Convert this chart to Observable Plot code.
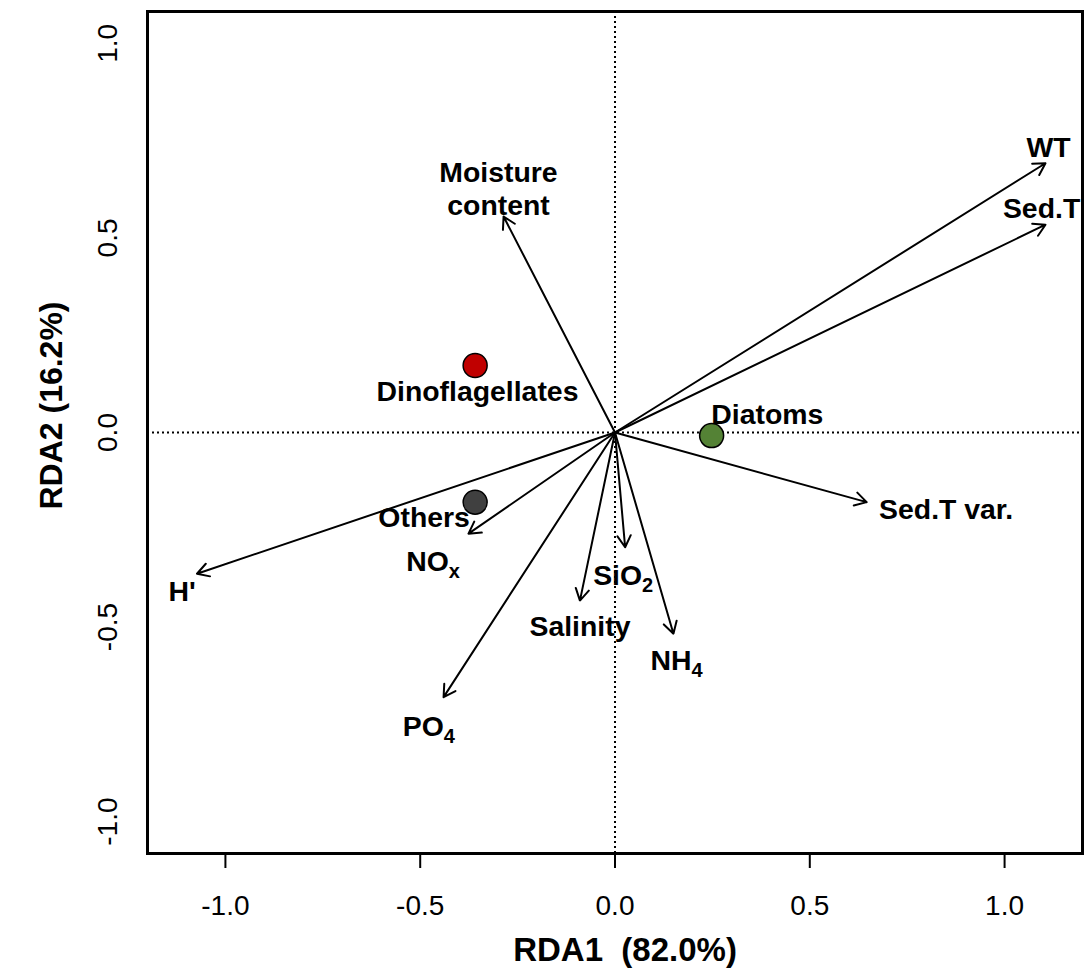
<!DOCTYPE html>
<html>
<head>
<meta charset="utf-8">
<script src="https://cdn.jsdelivr.net/npm/d3@7"></script>
<script src="https://cdn.jsdelivr.net/npm/@observablehq/plot@0.6"></script>
<style>
  html, body { margin: 0; padding: 0; background: #fff; }
  #chart svg { display: block; }
</style>
</head>
<body>
<div id="chart"></div>
<script>
// Axis ticks
const xTicks = [-1.0, -0.5, 0.0, 0.5, 1.0];
const yTicks = [-1.0, -0.5, 0.0, 0.5, 1.0];
const xTitle = "RDA1\u00a0\u00a0(82.0%)";
const yTitle = "RDA2 (16.2%)";

// Environmental vectors (arrow tips) and their label positions (data units)
const envNames = ["WT", "Sed.T", "Sed.T var.", "Moisture\ncontent", "H'", "NO_x", "PO_4", "Salinity", "SiO_2", "NH_4"];
const envX = [1.105, 1.105, 0.646, -0.286, -1.073, -0.376, -0.440, -0.090, 0.026, 0.150];
const envY = [0.692, 0.534, -0.179, 0.555, -0.363, -0.260, -0.680, -0.432, -0.295, -0.517];
const envLabelX = [1.113, 1.095, 0.850, -0.299, -1.111, -0.467, -0.478, -0.090, 0.021, 0.158];
const envLabelY = [0.707, 0.552, -0.222, 0.558, -0.434, -0.355, -0.779, -0.522, -0.391, -0.611];

// Phytoplankton groups (site/species scores)
const groupNames = ["Dinoflagellates", "Others", "Diatoms"];
const groupX = [-0.359, -0.359, 0.248];
const groupY = [0.172, -0.179, -0.008];
const groupLabelX = [-0.353, -0.490, 0.391];
const groupLabelY = [0.080, -0.243, 0.021];
const groupColors = ["#C00000", "#404040", "#548235"];

const env = envNames.map((n, i) => ({name: n, x: envX[i], y: envY[i], lx: envLabelX[i], ly: envLabelY[i]}));
const groups = groupNames.map((n, i) => ({name: n, x: groupX[i], y: groupY[i], lx: groupLabelX[i], ly: groupLabelY[i], color: groupColors[i]}));

const fmt = d => d.toFixed(1);

const plot = Plot.plot({
  width: 1089,
  height: 972,
  marginLeft: 147,
  marginRight: 7,
  marginTop: 11,
  marginBottom: 119,
  style: {fontFamily: "'Liberation Sans', Arial, sans-serif", color: "#000", background: "#fff"},
  x: {domain: [-1.2, 1.2]},
  y: {domain: [-1.082, 1.082]},
  marks: [
    Plot.ruleX([0], {stroke: "#000", strokeWidth: 2, strokeDasharray: "2,3"}),
    Plot.ruleY([0], {stroke: "#000", strokeWidth: 2, strokeDasharray: "2,3"}),
    Plot.arrow(env, {x1: () => 0, y1: () => 0, x2: "x", y2: "y", stroke: "#000", strokeWidth: 2, headLength: 10, headAngle: 60, insetStart: 0, insetEnd: 0}),
    Plot.dot(groups, {x: "x", y: "y", r: 12, fill: "color", stroke: "#000", strokeWidth: 1.5}),
    Plot.text(env, {x: "lx", y: "ly", text: "name", fontSize: 28.4, fontWeight: "bold", lineAnchor: "bottom", lineHeight: 1.16, fill: "#000", className: "sublabel"}),
    Plot.text(groups, {x: "lx", y: "ly", text: "name", fontSize: 28.4, fontWeight: "bold", lineAnchor: "bottom", fill: "#000"}),
    Plot.frame({stroke: "#000", strokeWidth: 3}),
    Plot.axisX({ticks: xTicks, tickFormat: fmt, tickSize: 15, tickPadding: 27, fontSize: 28, strokeWidth: 2, label: null}),
    Plot.axisY({ticks: yTicks, tickFormat: fmt, tickSize: 14, tickPadding: 25, fontSize: 28, strokeWidth: 2, rotate: -90, textAnchor: "middle", label: null}),
    Plot.text([xTitle], {frameAnchor: "bottom", lineAnchor: "bottom", dy: 107, dx: 10, fontSize: 33, fontWeight: "bold", fill: "#000"}),
    Plot.text([yTitle], {frameAnchor: "left", lineAnchor: "bottom", rotate: -90, textAnchor: "middle", dx: -86, dy: -27, fontSize: 32, fontWeight: "bold", fill: "#000"})
  ]
});

// Render subscripts (e.g. "SiO_2" -> SiO with subscript 2) as real tspans
plot.querySelectorAll(".sublabel text").forEach(t => {
  const s = t.textContent;
  const m = s.match(/^(.*)_(.+)$/);
  if (m && t.children.length === 0) {
    t.textContent = "";
    const a = document.createElementNS("http://www.w3.org/2000/svg", "tspan");
    a.textContent = m[1];
    const b = document.createElementNS("http://www.w3.org/2000/svg", "tspan");
    b.textContent = m[2];
    b.setAttribute("font-size", "20");
    b.setAttribute("dy", "7");
    t.appendChild(a);
    t.appendChild(b);
  }
});

document.getElementById("chart").appendChild(plot);
</script>
</body>
</html>
